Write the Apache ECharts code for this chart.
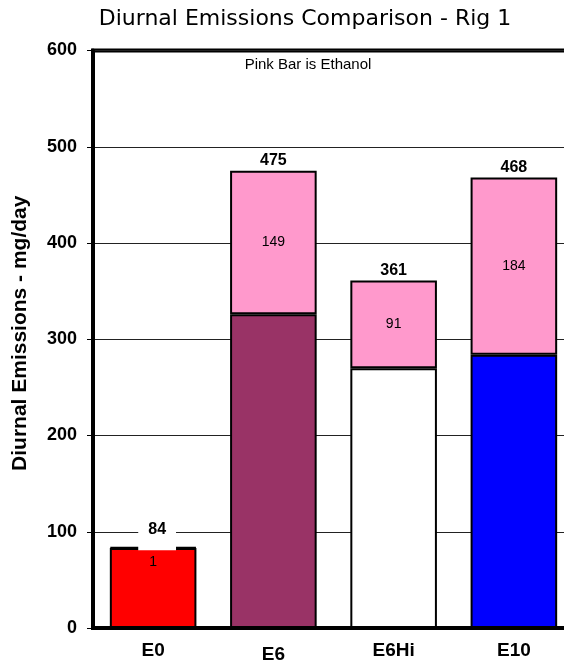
<!DOCTYPE html>
<html>
<head>
<meta charset="utf-8">
<script src="https://cdn.jsdelivr.net/npm/echarts@6/dist/echarts.min.js"></script>
<style>
  html, body { margin: 0; padding: 0; background: #fff; }
  #chart { width: 564px; height: 660px; }
</style>
</head>
<body>
<div id="chart"></div>
<script>
// data
var categories = ['E0', 'E6', 'E6Hi', 'E10'];
var baseValues = [83, 326, 270, 284];
var ethanolValues = [1, 149, 91, 184];
var totals = [84, 475, 361, 468];
var baseColors = ['#ff0000', '#993366', '#ffffff', '#0000ff'];
var yTicks = [0, 100, 200, 300, 400, 500, 600];

var chart = echarts.init(document.getElementById('chart'));

chart.setOption({
  animation: false,
  graphic: [{
    type: 'text',
    x: 305,
    y: 8,
    style: {
      text: 'Diurnal Emissions Comparison - Rig 1', align: 'center',
      fontFamily: 'DejaVu Sans', fontSize: 22, fill: '#000'
    }
  }, {
    type: 'text',
    x: 308,
    y: 57,
    style: {
      text: 'Pink Bar is Ethanol', align: 'center',
      fontFamily: 'Liberation Sans', fontSize: 15, fill: '#000'
    }
  }],
  grid: {
    left: 93, width: 481, top: 50.5, bottom: 32,
    outerBoundsMode: 'none',
    show: true, borderColor: '#000', borderWidth: 4, backgroundColor: 'transparent'
  },
  xAxis: {
    type: 'category',
    data: categories,
    axisLine: { lineStyle: { color: '#000', width: 4 } },
    axisTick: { show: false },
    axisLabel: {
      margin: 13,
      fontFamily: 'Liberation Sans', fontWeight: 'bold', fontSize: 19, color: '#000',
      formatter: function (v) { return v === 'E6' ? '{lo|' + v + '}' : v; },
      rich: { lo: { padding: [4, 0, 0, 0], fontFamily: 'Liberation Sans', fontWeight: 'bold', fontSize: 19, color: '#000' } }
    }
  },
  yAxis: {
    type: 'value',
    min: yTicks[0], max: yTicks[yTicks.length - 1], interval: 100,
    name: 'Diurnal Emissions - mg/day',
    nameLocation: 'middle',
    nameGap: 62,
    nameTextStyle: {
      fontFamily: 'Liberation Sans', fontWeight: 'bold', fontSize: 21, color: '#000',
      padding: [0, 0, 0, 12]
    },
    axisLine: { show: true, lineStyle: { color: '#000', width: 4 } },
    axisTick: { show: true, length: 6, lineStyle: { color: '#000', width: 1 } },
    axisLabel: { margin: 16, fontFamily: 'Liberation Sans', fontWeight: 'bold', fontSize: 18, color: '#000' },
    splitLine: { lineStyle: { color: '#222', width: 1 } }
  },
  series: [
    {
      name: 'Base',
      type: 'bar',
      stack: 'total',
      barWidth: '72%',
      data: baseValues.map(function (v, i) {
        return { value: v, itemStyle: { color: baseColors[i] } };
      }),
      itemStyle: { borderColor: '#000', borderWidth: 2 }
    },
    {
      name: 'Ethanol',
      type: 'bar',
      stack: 'total',
      data: ethanolValues.map(function (v, i) {
        var d = { value: v };
        if (i === 0) d.label = { position: 'bottom', distance: 7 };
        return d;
      }),
      itemStyle: { color: '#ff99cc', borderColor: '#000', borderWidth: 2 },
      label: {
        show: true, position: 'inside',
        fontFamily: 'Liberation Sans', fontSize: 14, color: '#000'
      }
    },
    {
      name: 'Total',
      type: 'bar',
      stack: 'total',
      data: totals.map(function (v, i) {
        var d = { value: 0 };
        if (i === 0) {
          d.label = { distance: -3, offset: [4, 0], backgroundColor: '#fff', padding: [2, 10, 13, 10] };
        }
        return d;
      }),
      itemStyle: { color: 'transparent', borderWidth: 0 },
      label: {
        show: true, position: 'top', distance: 2,
        formatter: function (p) { return totals[p.dataIndex]; },
        fontFamily: 'Liberation Sans', fontWeight: 'bold', fontSize: 16, color: '#000'
      }
    }
  ]
});
</script>
</body>
</html>
